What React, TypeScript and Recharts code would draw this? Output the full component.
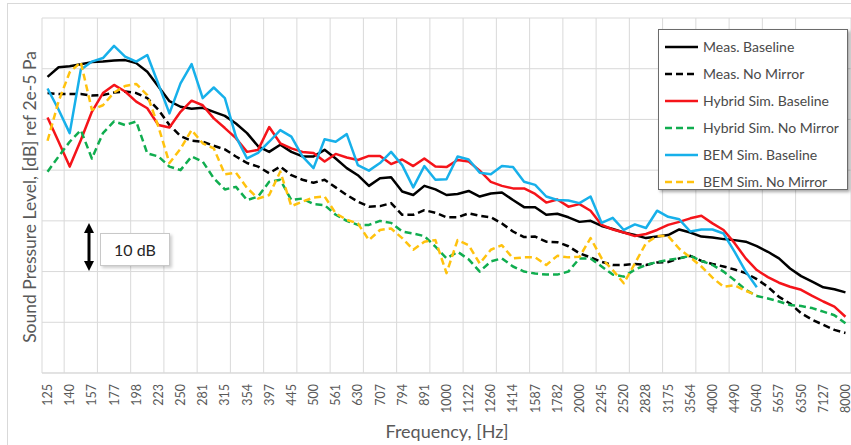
import React from "react";
import { LineChart, Line, CartesianGrid, XAxis, YAxis } from "recharts";

// 1/12-octave bands, 125 Hz .. 8 kHz (every other one is labelled)
const freqs = [
  125, 132, 140, 149, 157, 167, 177, 187, 198, 210, 223, 236, 250, 265, 281,
  297, 315, 334, 354, 375, 397, 420, 445, 472, 500, 530, 561, 595, 630, 667,
  707, 749, 794, 841, 891, 944, 1000, 1059, 1122, 1189, 1260, 1335, 1414, 1498,
  1587, 1682, 1782, 1888, 2000, 2119, 2245, 2378, 2520, 2670, 2828, 2997, 3175,
  3364, 3564, 3775, 4000, 4238, 4490, 4757, 5040, 5339, 5657, 5993, 6350, 6727,
  7127, 7551, 8000,
];

// dB values (relative scale, grid every 10 dB)
const measBaseline = [
  78.4, 80.3, 80.5, 80.9, 81.3, 81.4, 81.6, 81.7, 81.1, 79.4, 76.5, 73.6, 72.5,
  72.1, 72.3, 71.5, 70.7, 69.2, 67.3, 64.7, 63.6, 65.0, 63.6, 62.7, 62.7, 64.0,
  62.3, 60.4, 59.0, 56.9, 58.4, 58.6, 55.8, 55.1, 56.9, 56.2, 55.1, 55.3, 55.9,
  54.8, 55.4, 55.6, 54.1, 52.7, 52.7, 51.2, 51.4, 50.7, 49.8, 50.0, 49.0, 48.4,
  47.7, 47.2, 46.6, 46.9, 47.2, 48.3, 47.7, 46.9, 46.7, 46.4, 46.2, 45.9, 45.0,
  43.9, 42.6, 40.6, 39.1, 38.0, 36.9, 36.5, 35.9,
];
const measNoMirror = [
  75.2, 75.0, 75.0, 75.0, 74.7, 74.8, 75.3, 75.5, 75.2, 74.2, 71.9, 68.9, 66.7,
  65.8, 65.6, 64.8, 64.1, 62.7, 61.4, 60.7, 59.4, 60.7, 59.0, 58.1, 57.5, 58.1,
  56.6, 55.1, 53.8, 52.8, 52.9, 53.5, 51.2, 51.2, 52.1, 51.6, 50.7, 50.7, 51.5,
  51.0, 50.7, 49.5, 47.9, 46.8, 46.9, 45.9, 45.8, 45.0, 43.6, 42.8, 41.9, 41.3,
  41.3, 41.5, 41.3, 41.8, 41.9, 42.6, 43.1, 42.1, 41.5, 41.0, 40.4, 39.7, 38.5,
  37.0, 35.0, 33.7, 31.8, 30.5, 29.5, 28.5, 27.9,
];
const hybridBaseline = [
  70.4, 65.6, 60.7, 65.9, 71.5, 75.2, 76.8, 75.5, 73.5, 72.2, 68.9, 68.4, 71.5,
  73.7, 72.8, 70.2, 68.3, 66.3, 63.6, 64.0, 68.5, 65.3, 64.3, 63.6, 63.4, 61.7,
  63.2, 62.5, 62.0, 62.8, 62.8, 61.2, 62.1, 60.8, 62.3, 60.7, 60.6, 62.0, 61.7,
  59.9, 57.7, 56.9, 56.4, 56.4, 55.3, 53.6, 54.2, 52.8, 53.3, 52.0, 49.2, 48.3,
  47.7, 47.0, 47.4, 48.2, 49.2, 49.8, 50.5, 51.0, 49.5, 48.2, 45.6, 42.6, 40.3,
  38.9, 37.8, 37.0, 36.4, 35.2, 34.1, 33.1, 31.1,
];
const hybridNoMirror = [
  59.7, 62.7, 65.6, 67.9, 62.3, 67.3, 69.6, 68.9, 69.6, 63.3, 62.7, 60.7, 60.0,
  62.7, 61.7, 58.4, 56.2, 56.7, 54.1, 54.8, 57.7, 58.1, 54.1, 54.4, 53.3, 53.1,
  51.2, 50.0, 49.2, 49.2, 50.0, 49.6, 47.9, 47.5, 47.0, 44.9, 42.6, 43.9, 42.4,
  40.0, 42.0, 42.6, 41.0, 40.0, 39.6, 39.4, 39.4, 40.0, 42.6, 42.6, 41.0, 39.4,
  39.0, 40.4, 41.3, 41.9, 42.3, 42.6, 43.1, 42.1, 41.3, 40.0, 38.3, 36.4, 35.2,
  34.7, 34.1, 33.4, 33.2, 32.8, 32.1, 31.4, 29.8,
];
// BEM results stop at 5040 Hz
const bemBaseline = [
  76.1, 71.9, 67.3, 79.8, 81.4, 82.1, 84.5, 82.4, 81.4, 82.7, 77.0, 71.2, 77.1,
  80.9, 74.2, 76.3, 74.2, 66.6, 62.3, 63.4, 65.6, 67.9, 66.6, 62.7, 60.4, 66.1,
  65.6, 67.1, 61.0, 59.9, 61.4, 63.6, 61.0, 56.6, 60.8, 58.1, 58.2, 62.7, 62.1,
  59.5, 59.2, 60.8, 60.6, 57.7, 57.1, 54.8, 54.1, 54.0, 53.5, 54.8, 49.6, 50.6,
  48.2, 49.3, 48.6, 52.0, 50.8, 50.3, 47.9, 48.3, 48.3, 47.5, 43.9, 40.0, 36.9,
];
const bemNoMirror = [
  65.8, 73.6, 79.3, 81.3, 71.9, 72.8, 75.3, 76.6, 77.0, 74.8, 68.6, 61.4, 64.2,
  67.9, 65.3, 64.3, 59.2, 59.5, 56.5, 54.4, 55.1, 59.7, 52.9, 53.8, 54.6, 54.8,
  51.5, 50.2, 49.5, 46.2, 48.2, 48.5, 46.6, 44.3, 45.9, 46.2, 39.7, 46.2, 45.2,
  41.6, 44.3, 45.2, 42.6, 42.8, 42.8, 41.3, 43.1, 42.8, 42.9, 46.6, 42.6, 40.3,
  37.7, 41.6, 45.6, 47.0, 47.0, 44.5, 42.8, 41.0, 38.8, 37.0, 37.3, 36.2, 35.3,
];

const yTicks = [20, 30, 40, 50, 60, 70, 80];

const series = [
  { key: "measBaseline", name: "Meas. Baseline", color: "#000000", dashed: false },
  { key: "measNoMirror", name: "Meas. No Mirror", color: "#000000", dashed: true },
  { key: "hybridBaseline", name: "Hybrid Sim. Baseline", color: "#f5141a", dashed: false },
  { key: "hybridNoMirror", name: "Hybrid Sim. No Mirror", color: "#10ad4f", dashed: true },
  { key: "bemBaseline", name: "BEM Sim. Baseline", color: "#17b0ea", dashed: false },
  { key: "bemNoMirror", name: "BEM Sim. No Mirror", color: "#ffc20e", dashed: true },
];

const data = freqs.map((f, i) => ({
  i,
  f,
  measBaseline: measBaseline[i],
  measNoMirror: measNoMirror[i],
  hybridBaseline: hybridBaseline[i],
  hybridNoMirror: hybridNoMirror[i],
  bemBaseline: bemBaseline[i],
  bemNoMirror: bemNoMirror[i],
}));

const labelTicks = freqs.map((_, i) => i).filter((i) => i % 2 === 0);
const gridTicks = [...freqs.map((_, i) => i - 0.5), freqs.length - 0.5];

const FONT = "Lato, 'Open Sans', sans-serif";
const GREY = "#595959";

function FreqTick({ x, y, payload }: any) {
  return (
    <text
      x={x}
      y={y}
      transform={`rotate(-90 ${x} ${y})`}
      textAnchor="end"
      dy="0.36em"
      fill={GREY}
      fontSize={12.5}
      fontFamily={FONT}
    >
      {freqs[payload.value]}
    </text>
  );
}

function LegendBox() {
  return (
    <div
      style={{
        position: "absolute",
        left: 658,
        top: 29,
        width: 190,
        height: 161,
        boxSizing: "border-box",
        background: "#fff",
        border: "1px solid #6b6b6b",
        boxShadow: "2px 2px 3px rgba(0,0,0,0.35)",
        paddingTop: 3,
      }}
    >
      {series.map((s) => (
        <div
          key={s.key}
          style={{ display: "flex", alignItems: "center", height: 27 }}
        >
          <svg width={40} height={10} style={{ marginLeft: 5 }}>
            <line
              x1={1}
              y1={5}
              x2={34}
              y2={5}
              stroke={s.color}
              strokeWidth={2.5}
              strokeDasharray={s.dashed ? "7 4" : undefined}
            />
          </svg>
          <span
            style={{
              fontFamily: FONT,
              fontSize: 14,
              color: "#4a4a4a",
              marginLeft: -1,
              whiteSpace: "nowrap",
            }}
          >
            {s.name}
          </span>
        </div>
      ))}
    </div>
  );
}

export default function App() {
  return (
    <div
      style={{
        position: "absolute",
        left: 0,
        top: 0,
        width: 851,
        height: 445,
        overflow: "hidden",
        background: "#fff",
      }}
    >
      <div
        style={{
          position: "absolute",
          left: 7,
          top: 3,
          width: 900,
          height: 500,
          border: "1px solid #d9d9d9",
        }}
      />
      <div style={{ position: "absolute", left: 0, top: 0 }}>
        <LineChart
          width={851}
          height={445}
          data={data}
          margin={{ top: 18, right: 0, bottom: 42, left: 42 }}
        >
          <XAxis
            xAxisId="g"
            type="number"
            dataKey="i"
            domain={[-0.5, freqs.length - 0.5]}
            ticks={gridTicks}
            hide
          />
          <XAxis
            xAxisId="f"
            type="number"
            dataKey="i"
            domain={[-0.5, freqs.length - 0.5]}
            ticks={labelTicks}
            interval={0}
            height={30}
            tick={<FreqTick />}
            tickLine={false}
            tickMargin={5}
            axisLine={{ stroke: "#d9d9d9" }}
          />
          <YAxis domain={[20, 90]} ticks={yTicks} hide />
          <CartesianGrid xAxisId="g" stroke="#d9d9d9" strokeWidth={1} />
          {series.map((s) => (
            <Line
              key={s.key}
              xAxisId="f"
              type="linear"
              dataKey={s.key}
              stroke={s.color}
              strokeWidth={2.5}
              strokeDasharray={s.dashed ? "7 4" : undefined}
              strokeLinejoin="round"
              dot={false}
              isAnimationActive={false}
            />
          ))}
        </LineChart>
      </div>

      {/* 10 dB scale marker */}
      <svg
        width={20}
        height={60}
        style={{ position: "absolute", left: 79, top: 217 }}
      >
        <line x1={10} y1={10} x2={10} y2={46} stroke="#000" strokeWidth={3} />
        <polygon points="10,6 5,16 15,16" fill="#000" />
        <polygon points="10,54 5,44 15,44" fill="#000" />
      </svg>
      <div
        style={{
          position: "absolute",
          left: 100,
          top: 233,
          width: 70,
          height: 33,
          boxSizing: "border-box",
          border: "1px solid #c8c8c8",
          background: "#fff",
          boxShadow: "2px 2px 3px rgba(0,0,0,0.2)",
          fontFamily: FONT,
          fontSize: 16,
          color: "#262626",
          display: "flex",
          alignItems: "center",
          justifyContent: "center",
        }}
      >
        10 dB
      </div>

      <LegendBox />

      <div
        style={{
          position: "absolute",
          left: 29,
          top: 197,
          transform: "translate(-50%, -50%) rotate(-90deg)",
          whiteSpace: "nowrap",
          fontFamily: FONT,
          fontSize: 17.5,
          color: GREY,
        }}
      >
        Sound Pressure Level, [dB] ref 2e-5 Pa
      </div>
      <div
        style={{
          position: "absolute",
          left: 447,
          top: 431,
          transform: "translate(-50%, -50%)",
          whiteSpace: "nowrap",
          fontFamily: FONT,
          fontSize: 18,
          color: GREY,
        }}
      >
        Frequency, [Hz]
      </div>
    </div>
  );
}
